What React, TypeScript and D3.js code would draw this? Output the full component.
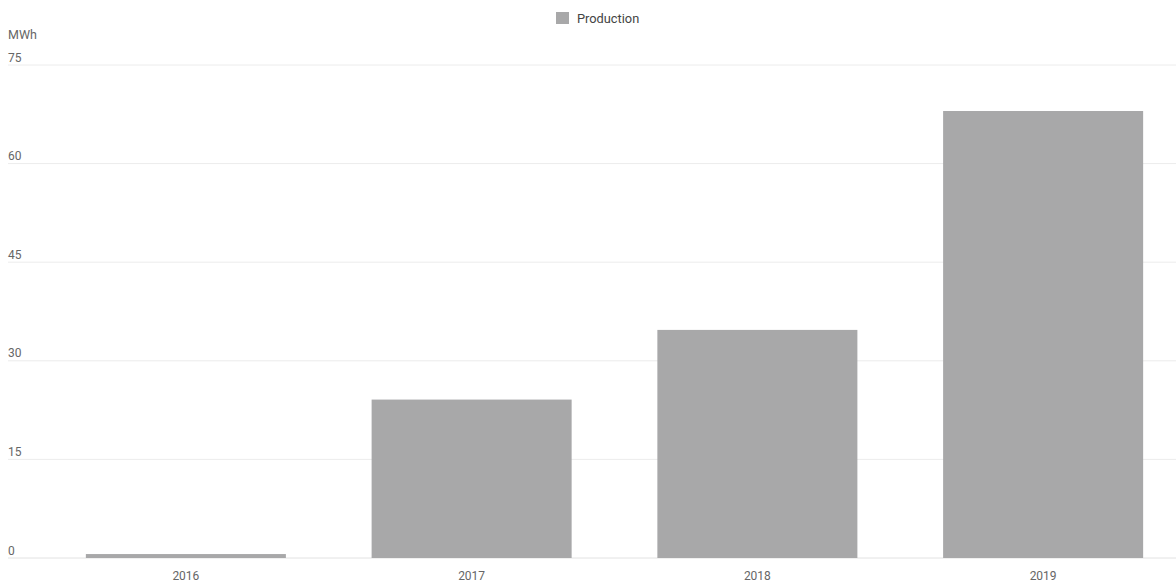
import React from "react";
import * as d3 from "d3";

const categories = ["2016", "2017", "2018", "2019"];
const production = [0.6, 24.1, 34.7, 68.0];
const yTicks = [0, 15, 30, 45, 60, 75];

const W = 1176;
const H = 582;

export default function App() {
  const x = d3.scaleBand<string>().domain(categories).range([43, 1186]).paddingInner(0.3).paddingOuter(0.15);
  const y = d3.scaleLinear().domain([0, 75]).range([558, 65]);
  const font = "Roboto, 'Noto Sans', sans-serif";
  return (
    <svg width={W} height={H} style={{ position: "fixed", left: 0, top: 0, background: "#fff" }} fontFamily={font}>
      {yTicks.map((t) => (
        <g key={t}>
          <line x1={8} x2={W} y1={y(t)} y2={y(t)} stroke={t === 0 ? "#e2e2e2" : "#ececec"} strokeWidth={1} />
          <text x={8} y={y(t) - 3.5} fontSize={12} fill="#666">{t}</text>
        </g>
      ))}
      <text x={8} y={39} fontSize={12.5} fill="#666">MWh</text>
      {categories.map((c, i) => (
        <g key={c}>
          <rect x={x(c)} y={y(production[i])} width={x.bandwidth()} height={y(0) - y(production[i])} fill="#a8a8a9" />
          <text x={(x(c) as number) + x.bandwidth() / 2} y={579.5} fontSize={12} fill="#666" textAnchor="middle">{c}</text>
        </g>
      ))}
      <rect x={556} y={12} width={13} height={12} fill="#a8a8a9" />
      <text x={577} y={23} fontSize={12.8} fill="#444">Production</text>
    </svg>
  );
}
